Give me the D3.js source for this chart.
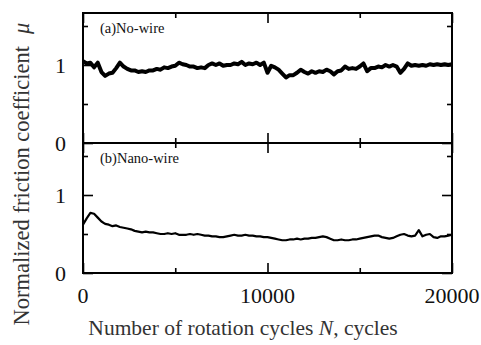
<!DOCTYPE html>
<html>
<head>
<meta charset="utf-8">
<script src="https://cdn.jsdelivr.net/npm/d3@7"></script>
<style>
  body { margin: 0; background: #fff; }
  svg { display: block; }
  text { font-family: "Liberation Serif", "Times New Roman", serif; fill: #111; }
</style>
</head>
<body>
<svg id="chart" width="481" height="345"></svg>
<script>
const cycles = [
  0, 200, 400, 600, 800, 1000, 1200, 1400, 1600, 1800,
  2000, 2200, 2400, 2600, 2800, 3000, 3200, 3400, 3600, 3800,
  4000, 4200, 4400, 4600, 4800, 5000, 5200, 5400, 5600, 5800,
  6000, 6200, 6400, 6600, 6800, 7000, 7200, 7400, 7600, 7800,
  8000, 8200, 8400, 8600, 8800, 9000, 9200, 9400, 9600, 9800,
  10000, 10200, 10400, 10600, 10800, 11000, 11200, 11400, 11600, 11800,
  12000, 12200, 12400, 12600, 12800, 13000, 13200, 13400, 13600, 13800,
  14000, 14200, 14400, 14600, 14800, 15000, 15200, 15400, 15600, 15800,
  16000, 16200, 16400, 16600, 16800, 17000, 17200, 17400, 17600, 17800,
  18000, 18200, 18400, 18600, 18800, 19000, 19200, 19400, 19600, 19800,
  20000
];

// (a) No-wire
const muNoWire = [
  1.05, 1.02, 1.03, 0.97, 1.03, 0.91, 0.86, 0.89, 0.90, 0.96,
  1.03, 0.98, 0.95, 0.93, 0.93, 0.91, 0.92, 0.91, 0.93, 0.93,
  0.95, 0.94, 0.97, 0.96, 0.98, 0.99, 1.03, 1.01, 1.00, 0.98,
  0.98, 0.96, 0.97, 0.96, 1.00, 1.02, 1.00, 1.02, 0.99, 1.00,
  1.00, 1.02, 1.01, 1.04, 1.00, 1.02, 1.01, 1.03, 1.00, 1.03,
  0.90, 0.99, 0.97, 0.94, 0.89, 0.84, 0.87, 0.87, 0.90, 0.94,
  0.91, 0.89, 0.92, 0.90, 0.92, 0.91, 0.94, 0.92, 0.88, 0.92,
  0.93, 0.98, 0.95, 0.96, 0.95, 0.98, 1.02, 0.92, 0.96, 0.96,
  0.98, 0.97, 1.00, 0.98, 1.00, 0.98, 0.90, 0.95, 1.02, 0.99,
  1.00, 0.99, 1.00, 0.99, 1.01, 1.00, 1.01, 1.00, 1.01, 1.00,
  1.01
];

// (b) Nano-wire
const muNanoWire = [
  0.62, 0.70, 0.77, 0.76, 0.71, 0.66, 0.63, 0.62, 0.60, 0.61,
  0.59, 0.58, 0.57, 0.56, 0.54, 0.53, 0.52, 0.53, 0.52, 0.52,
  0.51, 0.50, 0.50, 0.51, 0.50, 0.51, 0.49, 0.49, 0.49, 0.50,
  0.49, 0.50, 0.49, 0.48, 0.48, 0.47, 0.47, 0.46, 0.46, 0.47,
  0.48, 0.49, 0.48, 0.48, 0.49, 0.48, 0.48, 0.47, 0.47, 0.46,
  0.46, 0.45, 0.44, 0.43, 0.42, 0.42, 0.43, 0.43, 0.44, 0.43,
  0.44, 0.44, 0.45, 0.45, 0.46, 0.47, 0.46, 0.44, 0.42, 0.42,
  0.43, 0.42, 0.42, 0.43, 0.43, 0.44, 0.45, 0.46, 0.47, 0.48,
  0.48, 0.46, 0.45, 0.44, 0.45, 0.47, 0.49, 0.50, 0.48, 0.47,
  0.48, 0.55, 0.47, 0.49, 0.50, 0.46, 0.45, 0.47, 0.47, 0.48,
  0.49
];

const panels = [
  { label: "(a)No-wire", values: muNoWire, width: 4 },
  { label: "(b)Nano-wire", values: muNanoWire, width: 2.2 }
];

const xMajor = [0, 10000, 20000];
const xMinor = [5000, 15000];
const yMajor = [0, 1];
const yMinor = [0.5, 1.5];

const svg = d3.select("#chart");
const plotLeft = 83, plotRight = 452, plotTop = 13, panelH = 130;

const x = d3.scaleLinear().domain([0, 20000]).range([plotLeft, plotRight]);

panels.forEach((p, i) => {
  const y0 = plotTop + i * panelH;
  const y = d3.scaleLinear().domain([0, 5 / 3]).range([y0 + panelH, y0]);
  const g = svg.append("g");

  // ticks (inward, all four sides)
  const addTicks = (axis, tf) => {
    const a = g.append("g").attr("transform", tf).call(axis);
    a.select(".domain").remove();
    a.selectAll(".tick line").attr("stroke", "#000").attr("stroke-width", 1.6);
  };
  addTicks(d3.axisLeft(y).tickValues(yMinor).tickSize(-5).tickFormat(""), `translate(${plotLeft},0)`);
  addTicks(d3.axisLeft(y).tickValues(yMajor).tickSize(-10).tickFormat(""), `translate(${plotLeft},0)`);
  addTicks(d3.axisRight(y).tickValues(yMinor).tickSize(-5).tickFormat(""), `translate(${plotRight},0)`);
  addTicks(d3.axisRight(y).tickValues(yMajor).tickSize(-10).tickFormat(""), `translate(${plotRight},0)`);
  addTicks(d3.axisBottom(x).tickValues(xMinor).tickSize(-5).tickFormat(""), `translate(0,${y0 + panelH})`);
  addTicks(d3.axisBottom(x).tickValues(xMajor).tickSize(-10).tickFormat(""), `translate(0,${y0 + panelH})`);
  addTicks(d3.axisTop(x).tickValues(xMinor).tickSize(-5).tickFormat(""), `translate(0,${y0})`);
  addTicks(d3.axisTop(x).tickValues(xMajor).tickSize(-10).tickFormat(""), `translate(0,${y0})`);

  // y tick labels
  g.selectAll(".ylab")
    .data(yMajor)
    .enter()
    .append("text")
    .attr("x", plotLeft - 17)
    .attr("y", d => y(d))
    .attr("dy", "0.35em")
    .attr("text-anchor", "end")
    .attr("font-size", 22)
    .text(d => d);

  // data line
  const line = d3.line()
    .x((d, j) => x(cycles[j]))
    .y(d => y(d));
  g.append("path")
    .datum(p.values)
    .attr("d", line)
    .attr("fill", "none")
    .attr("stroke", "#000")
    .attr("stroke-width", p.width)
    .attr("stroke-linejoin", "round");

  // frame
  g.append("rect")
    .attr("x", plotLeft)
    .attr("y", y0)
    .attr("width", plotRight - plotLeft)
    .attr("height", panelH)
    .attr("fill", "none")
    .attr("stroke", "#000")
    .attr("stroke-width", 2);

  g.append("text")
    .attr("x", 100)
    .attr("y", y0 + 20)
    .attr("font-size", 14.5)
    .text(p.label);
});

// x tick labels
svg.selectAll(".xlab")
  .data(xMajor)
  .enter()
  .append("text")
  .attr("x", d => x(d))
  .attr("y", 303)
  .attr("text-anchor", "middle")
  .attr("font-size", 22)
  .text(d => d);

// axis titles
const xt = svg.append("text")
  .attr("x", 243)
  .attr("y", 335)
  .attr("text-anchor", "middle")
  .attr("font-size", 21.5)
  .style("fill", "#333");
xt.append("tspan").text("Number of rotation cycles ");
xt.append("tspan").attr("font-style", "italic").text("N");
xt.append("tspan").text(", cycles");

const yt = svg.append("text")
  .attr("transform", "translate(29,174) rotate(-90)")
  .attr("text-anchor", "middle")
  .attr("font-size", 22.5)
  .style("fill", "#333");
yt.append("tspan").text("Normalized friction coefficient");
yt.append("tspan").attr("dx", 12).attr("font-style", "italic").text("\u03bc");
</script>
</body>
</html>
